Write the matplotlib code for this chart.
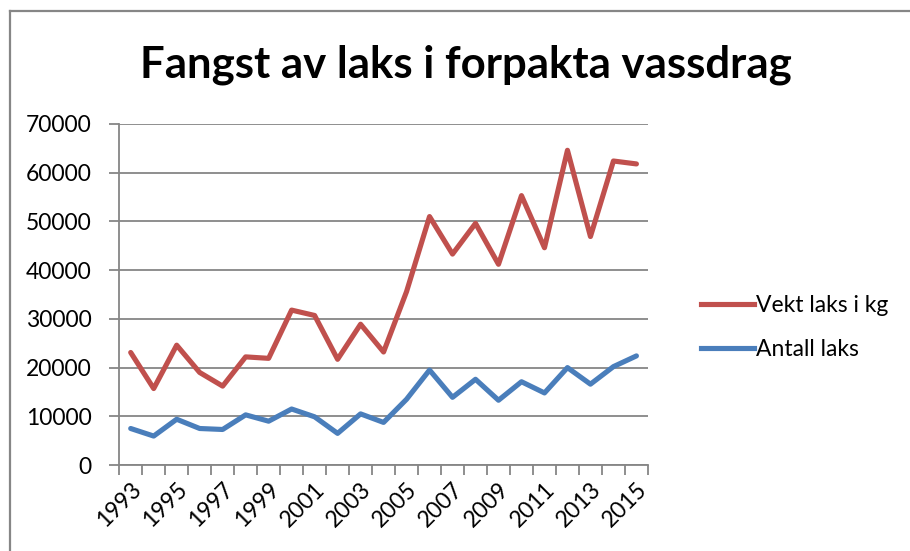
import numpy as np
import matplotlib
matplotlib.use("Agg")
import matplotlib.pyplot as plt
from matplotlib.lines import Line2D

plt.rcParams['font.family'] = ['Lato', 'DejaVu Sans']

years = list(range(1993, 2016))
vekt = [23100, 15700, 24600, 19000, 16200, 22200, 21900, 31800, 30700, 21700,
        28900, 23200, 35600, 51000, 43300, 49600, 41200, 55300, 44600, 64600,
        46900, 62400, 61800]
antall = [7500, 5950, 9400, 7500, 7300, 10300, 9000, 11500, 9900, 6500,
          10500, 8750, 13500, 19500, 13900, 17600, 13300, 17100, 14800, 20000,
          16600, 20200, 22400]

red = '#C0504D'
blue = '#4A7EBB'
grey = '#868686'

fig = plt.figure(figsize=(9.10, 5.51), dpi=100)
ax = fig.add_axes([0.131, 0.156, 0.581, 0.619])

x = np.arange(len(years))
ax.plot(x, vekt, color=red, lw=3.7, label='Vekt laks i kg', solid_joinstyle='round', solid_capstyle='round')
ax.plot(x, antall, color=blue, lw=3.7, label='Antall laks', solid_joinstyle='round', solid_capstyle='round')

ax.set_xlim(-0.5, len(years) - 0.5)
ax.set_ylim(0, 70000)
ax.set_yticks(range(0, 70001, 10000))
ax.grid(axis='y', color=grey, lw=1.3)
ax.set_axisbelow(True)

ax.set_xticks(x[::2])
ax.set_xticklabels([str(y) for y in years[::2]], rotation=45, ha='right',
                   rotation_mode='anchor', fontsize=16.5)
ax.set_xticks(np.arange(-0.5, len(years)), minor=True)
ax.tick_params(axis='x', which='major', length=0, pad=10)
ax.tick_params(axis='x', which='minor', length=7, color=grey, width=1.3)
ax.tick_params(axis='y', length=7, color=grey, width=1.3, labelsize=16.5, pad=13)

for s in ['top', 'right']:
    ax.spines[s].set_visible(False)
for s in ['left', 'bottom']:
    ax.spines[s].set_color(grey)
    ax.spines[s].set_linewidth(1.3)

fig.text(0.512, 0.882, 'Fangst av laks i forpakta vassdrag', ha='center', va='center',
         fontsize=31.5, fontweight='bold')

leg = fig.legend(handles=[Line2D([], [], color=red, lw=3.7), Line2D([], [], color=blue, lw=3.7)],
                 labels=['Vekt laks i kg', 'Antall laks'], loc='center left',
                 bbox_to_anchor=(0.748, 0.405), frameon=False, fontsize=16.5,
                 handlelength=2.3, handletextpad=0.1, labelspacing=1.0)

# outer chart border (left and top visible)
fig.add_artist(Line2D([0.0105, 0.0105], [0.0, 0.980], color=grey, lw=1.6, transform=fig.transFigure))
fig.add_artist(Line2D([0.0105, 1.0], [0.980, 0.980], color=grey, lw=1.6, transform=fig.transFigure))

fig.savefig('out.png', dpi=100)
